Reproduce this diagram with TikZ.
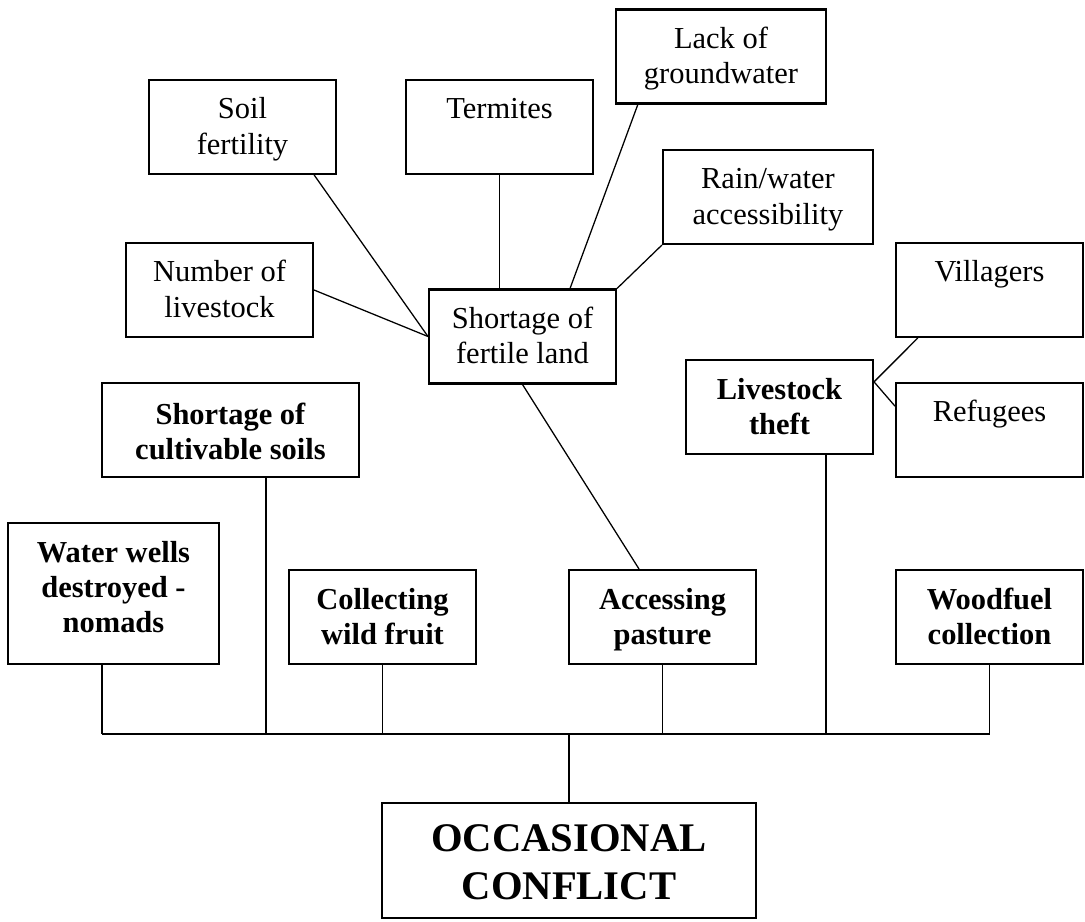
\documentclass[tikz,border=0pt]{standalone}
\usepackage{fontspec}
\setmainfont{Liberation Serif}
\usepackage{tikz}

\begin{document}
\begin{tikzpicture}[x=0.3937pt,y=-0.3937pt,
    cause/.style={draw,line width=0.8pt,align=center,inner sep=0pt,
      font=\fontsize{12}{13.8}\selectfont,text height=21.3pt,text depth=0pt},
    driver/.style={cause,font=\fontsize{12}{13.8}\selectfont\bfseries,
      text height=22pt},
    link/.style={line width=0.5pt},
    bus/.style={line width=0.75pt}]

  \useasboundingbox (0,0) rectangle (1085,922);

  %,  Causes (plain boxes), 
  \foreach \nm/\cx/\cy/\w/\txt in {
    soil/242.5/127/187/{Soil\\fertility},
    termites/499.5/127/187/{Termites\\~},
    groundwater/721/56.5/210/{Lack of\\groundwater},
    rain/768/197/210/{Rain/water\\accessibility},
    herd/219.5/290/187/{Number of\\livestock},
    fertile/522.5/336.5/187/{Shortage of\\fertile land},
    villagers/989.5/290/187/{Villagers\\~},
    refugees/989.5/430/187/{Refugees\\~}%
  }
    \node[cause,minimum width=\w*0.3937pt,minimum height=37pt]
      (\nm) at (\cx,\cy) {\txt};

  %,  Drivers of conflict (bold boxes), 
  \foreach \nm/\cx/\cy/\w/\h/\th/\txt in {
    cultivable/230.5/430/257/94/23/{Shortage of\\cultivable soils},
    theft/779.5/407/187/94/22/{Livestock\\theft},
    wells/113.5/593.5/211/141/31/{Water wells\\destroyed -\\nomads},
    fruit/382.5/617/187/94/22/{Collecting\\wild fruit},
    pasture/662.5/617/187/94/22/{Accessing\\pasture},
    woodfuel/989.5/617/187/94/22/{Woodfuel\\collection}%
  }
    \node[driver,minimum width=\w*0.3937pt,minimum height=\h*0.3937pt,
      text height=\th pt] (\nm) at (\cx,\cy) {\txt};

  \node[draw,line width=0.8pt,align=center,inner sep=0pt,
    minimum width=147.2pt,minimum height=45.3pt,text height=31pt,
    text depth=0pt,font=\fontsize{16}{18.9}\selectfont\bfseries]
    (conflict) at (569,860.5) {OCCASIONAL\\CONFLICT};

  %,  Links into shortage of fertile land, 
  \draw[link] ([xshift=-9pt]soil.south east) -- (fertile.west);
  \draw[link] (herd.east) -- (fertile.west);
  \draw[link] (termites.south) -- (termites.south |- fertile.north);
  \draw[link] ([xshift=9pt]groundwater.south west)
    -- ([xshift=-18.5pt]fertile.north east);
  \draw[link] (rain.south west) -- (fertile.north east);
  \draw[link] (fertile.south) -- ([xshift=-9.25pt]pasture.north);

  %,  Livestock theft, 
  \coordinate (thefttip) at ([yshift=-9pt]theft.north east);
  \draw[link] (thefttip) -- ([xshift=9pt]villagers.south west);
  \draw[link] (thefttip) -- ([yshift=-9.5pt]refugees.north west);

  %,  Tree down to the conflict, 
  \coordinate (hub) at (569,734);
  \foreach \src/\dx in {wells/-4.5,cultivable/14,fruit/0,
                        pasture/0,theft/18.3,woodfuel/0}{
    \coordinate (\src-drop) at ([xshift=\dx pt]\src.south);
    \draw[link] (\src-drop) -- (\src-drop |- hub);
  }
  \draw[bus] (wells-drop |- hub) -- (woodfuel-drop |- hub);
  \draw[link] (hub) -- (conflict.north);

\end{tikzpicture}
\end{document}
